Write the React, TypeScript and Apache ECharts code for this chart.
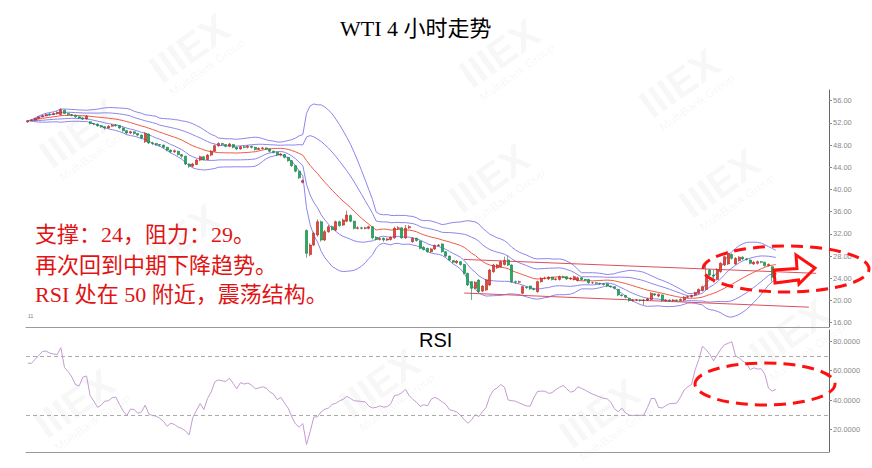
import React, { useEffect, useRef } from 'react';
import * as echarts from 'echarts';

// [open, close, low, high] per 4h candle
const candles: number[][] = [
  [52.2,52.4,52.0,52.5],[52.4,52.5,52.3,52.7],[52.5,52.8,52.4,52.9],[52.8,53.1,52.7,53.2],[53.1,53.3,53.0,53.5],
  [53.3,53.5,53.2,53.7],[53.6,53.5,53.3,53.8],[53.5,53.7,53.4,53.9],[53.7,53.9,53.5,54.1],[53.5,54.4,53.4,54.6],
  [54.3,53.7,53.6,54.4],[53.7,53.5,53.3,53.8],[53.5,53.4,53.2,53.6],[53.4,53.1,52.9,53.5],[53.1,52.9,52.7,53.2],
  [52.9,52.7,52.5,53.0],[52.7,53.2,52.6,53.4],[52.2,51.9,51.7,52.3],[51.9,51.8,51.6,52.0],[51.8,51.5,51.3,51.9],
  [51.5,51.3,51.1,51.6],[51.3,51.1,50.8,51.4],[51.1,51.4,51.0,51.6],[51.4,51.6,51.3,51.8],[51.6,51.5,51.3,51.8],
  [51.5,51.1,50.9,51.6],[51.1,50.6,50.4,51.2],[50.6,50.2,50.0,50.7],[50.2,50.4,50.0,50.6],[50.4,50.1,49.9,50.5],
  [50.1,49.8,49.6,50.2],[49.8,49.3,49.1,49.9],[48.6,50.1,48.4,50.3],[50.0,48.4,48.2,50.1],[48.4,48.3,48.0,48.6],
  [48.3,48.1,47.9,48.4],[48.1,48.0,47.7,48.2],[48.0,47.6,47.4,48.1],[47.6,47.1,46.9,47.7],[47.1,46.8,46.6,47.2],
  [46.8,47.0,46.6,47.2],[46.9,46.3,46.1,47.0],[46.3,46.0,45.7,46.4],[46.0,44.6,44.4,46.1],[44.6,44.2,43.9,44.7],
  [44.2,44.6,44.0,44.8],[44.5,45.3,44.4,45.5],[45.3,45.9,45.1,46.1],[45.9,45.4,45.2,46.0],[45.4,46.2,45.3,46.4],
  [46.2,46.9,46.0,47.1],[46.9,47.9,46.8,48.1],[47.9,48.3,47.7,48.5],[48.3,48.1,47.9,48.4],[48.1,47.8,47.6,48.2],
  [47.8,48.2,47.6,48.4],[48.1,47.6,47.4,48.2],[47.6,47.3,47.1,47.7],[47.3,47.7,47.2,47.9],[47.7,47.6,47.4,47.9],
  [47.6,47.8,47.4,48.0],[47.8,47.6,47.4,47.9],[47.6,47.2,47.0,47.7],[47.2,47.4,47.1,47.6],[47.4,47.5,47.2,47.7],
  [47.5,47.3,47.1,47.6],[47.3,46.9,46.7,47.4],[46.9,46.7,46.5,47.0],[46.7,46.2,46.0,46.8],[46.2,46.4,46.0,46.6],
  [46.3,45.8,45.6,46.4],[45.8,45.2,45.0,45.9],[45.2,44.3,44.1,45.3],[44.3,43.3,43.1,44.4],[43.3,42.1,41.9,43.4],
  [41.3,41.6,41.1,41.8],[32.6,28.5,27.7,32.8],[28.3,30.0,28.0,30.3],[30.0,32.1,29.8,32.4],[31.8,34.2,31.5,34.6],
  [34.2,30.9,30.6,34.4],[30.9,32.4,30.7,32.7],[32.4,33.3,32.2,33.6],[33.3,32.8,32.6,33.5],[32.7,34.2,32.5,34.4],
  [34.2,33.5,33.3,34.4],[33.6,34.5,33.4,34.8],[34.3,35.4,34.1,36.2],[35.3,34.3,34.1,35.5],[34.3,33.0,32.8,34.4],
  [33.0,33.1,32.8,33.4],[33.1,33.0,32.8,33.3],[33.0,33.1,32.8,33.3],[33.0,33.3,32.8,33.5],[33.3,31.3,31.0,33.4],
  [31.4,31.0,30.8,31.6],[31.0,31.2,30.8,31.4],[31.2,30.9,30.6,31.4],[30.9,31.1,30.7,31.3],[31.0,31.4,30.8,31.6],
  [31.3,33.0,31.1,33.3],[33.0,33.1,32.7,33.4],[33.1,31.3,31.1,33.2],[31.3,33.0,31.1,33.6],[33.1,33.3,32.9,33.6],
  [30.6,31.2,30.4,31.4],[31.2,30.8,30.6,31.3],[30.7,29.4,29.2,30.8],[29.6,29.2,29.0,29.8],[29.4,28.8,28.6,29.5],
  [28.8,29.3,28.6,29.5],[29.3,29.9,29.1,30.1],[29.9,30.0,29.7,30.2],[30.2,28.8,28.6,30.3],[28.8,28.0,27.8,28.9],
  [28.0,27.3,27.1,28.1],[27.2,26.9,26.7,27.3],[26.8,27.1,26.6,27.3],[27.0,26.5,26.3,27.1],[26.5,24.9,24.7,26.6],
  [24.9,22.8,22.6,25.0],[23.4,22.2,20.1,23.5],[22.2,23.3,22.0,23.5],[23.7,21.6,21.4,23.8],[21.7,22.6,21.5,22.8],
  [21.9,23.7,21.7,23.9],[22.8,25.5,22.6,25.7],[25.2,26.4,25.0,26.6],[25.9,26.4,25.7,26.6],[26.1,27.0,25.9,27.2],
  [26.5,27.2,26.3,27.9],[27.3,26.4,26.2,28.1],[26.4,23.4,23.2,26.5],[23.4,23.3,23.0,23.6],[23.3,23.4,23.1,23.6],
  [21.3,22.5,21.1,22.7],[22.4,22.3,22.1,22.6],[22.6,22.1,21.9,22.7],[22.1,22.0,21.8,22.3],[21.6,23.4,21.4,23.6],
  [23.4,24.0,23.2,24.2],[24.0,24.0,23.8,24.3],[23.9,24.2,23.7,24.4],[24.2,23.8,23.6,24.3],[23.8,23.9,23.6,24.1],
  [23.8,24.3,23.6,24.5],[24.3,24.2,24.0,24.5],[24.3,23.9,23.7,24.4],[23.9,24.0,23.7,24.2],[23.8,24.3,23.6,24.5],
  [23.6,24.1,23.4,24.3],[24.1,23.8,23.6,24.2],[23.8,23.7,23.5,23.9],[23.8,23.2,23.0,23.9],[23.2,23.2,23.0,23.4],
  [23.2,23.1,22.9,23.3],[23.1,23.0,22.8,23.2],[23.0,22.9,22.7,23.1],[23.0,22.6,22.4,23.1],[22.6,22.5,22.3,22.7],
  [22.5,22.2,22.0,22.6],[22.0,21.0,20.8,22.1],[21.0,20.9,20.7,21.1],[20.9,20.6,20.4,21.0],[20.4,20.0,19.8,20.5],
  [20.0,20.1,19.8,20.3],[20.1,20.1,19.9,20.3],[20.1,20.0,19.8,20.2],[20.0,20.1,19.2,20.3],[20.1,20.3,19.9,20.5],
  [20.2,21.3,20.0,21.5],[21.2,21.0,20.8,21.3],[20.8,21.1,20.6,21.3],[21.0,20.0,19.8,21.1],[20.0,20.1,19.8,20.3],
  [20.1,20.0,19.8,20.2],[20.0,20.1,19.8,20.3],[20.1,20.0,19.8,20.2],[20.0,20.2,19.9,20.4],[20.1,20.6,19.9,20.8],
  [20.6,20.7,20.4,20.9],[20.7,20.9,20.5,21.1],[21.0,21.4,20.8,21.6],[21.3,22.0,21.1,22.2],[21.8,22.5,21.6,22.7],
  [22.0,24.6,21.8,26.8],[25.5,24.6,24.4,25.7],[24.6,24.4,23.2,25.5],[23.8,25.6,23.6,25.8],[25.2,26.7,25.0,26.9],
  [26.4,27.9,26.2,28.1],[26.6,28.5,26.4,28.9],[28.3,27.6,27.4,28.5],[26.6,27.6,26.4,27.8],[27.2,27.8,27.0,28.0],
  [27.8,27.5,27.3,28.0],[27.5,27.4,27.2,27.6],[27.3,26.7,26.5,27.4],[26.6,26.9,26.4,27.1],[26.7,27.0,26.5,27.2],
  [27.0,26.9,26.7,27.1],[26.9,26.3,26.1,27.0],[26.3,26.5,26.1,26.7],[26.1,24.2,23.4,26.2],[24.8,24.8,24.6,25.0],
];

// RSI value per candle
const rsi: number[] = [
  64.9,64.9,67.6,70.3,72.9,73.2,71.8,71.2,70.8,75.5,
  62.0,59.2,55.6,50.4,49.6,55.4,56.3,43.0,39.2,35.0,
  36.5,39.2,39.5,41.5,42.0,37.0,32.5,29.5,33.8,33.6,
  31.0,32.0,36.5,30.5,29.5,29.0,27.6,25.5,22.2,24.3,
  23.4,21.6,20.7,19.0,16.3,28.2,33.0,37.6,33.5,41.0,
  45.4,52.4,53.6,53.0,52.6,54.7,51.2,47.6,51.8,50.8,
  51.5,50.2,47.6,48.2,49.0,48.0,45.5,44.0,40.3,41.8,
  38.0,34.5,28.5,23.8,21.6,24.0,9.8,18.5,28.5,28.6,
  32.0,33.7,34.6,37.0,37.8,39.4,40.5,42.5,41.0,39.5,
  39.3,39.0,38.8,35.8,34.6,35.0,36.0,35.2,35.5,37.5,
  43.0,43.5,45.0,47.2,43.0,40.5,38.5,35.7,36.8,36.0,
  40.5,41.8,40.5,38.8,37.0,33.4,32.8,31.8,29.6,26.8,
  24.2,26.5,30.0,28.8,32.0,35.0,42.5,46.7,48.2,50.5,
  48.6,40.0,39.5,39.2,38.0,37.0,36.0,35.8,41.5,45.8,
  46.0,46.0,44.5,45.0,47.0,48.6,49.9,47.5,45.3,46.0,
  49.0,47.9,46.7,45.3,44.0,43.0,42.1,41.1,40.8,38.5,
  34.0,32.0,34.5,31.2,29.8,29.4,29.8,29.5,29.8,35.0,
  41.0,41.0,35.0,34.6,36.2,37.5,37.6,38.0,42.0,46.8,
  49.0,50.5,60.5,67.5,76.5,74.0,71.0,66.5,70.5,74.5,
  77.5,78.4,79.5,70.0,68.5,66.4,64.8,60.6,61.8,61.0,
  61.2,57.5,48.0,46.0,47.2,
];

// hand-drawn channel lines: [candle slot, price]
const resistanceLine: number[][] = [[119, 27.4], [215, 24.9]];
const supportLine: number[][] = [[119, 21.35], [213, 18.8]];

const priceTicks = [16, 20, 24, 28, 32, 36, 40, 44, 48, 52, 56];
const rsiTicks = [20, 40, 60, 80];
const rsiLevels = [70, 30];

const SLOT_COUNT = 219;
const slots = Array.from({ length: SLOT_COUNT }, (_, i) => String(i));

// watermark anchor points (pixels)
const watermarkSpots: number[][] = [
  [190, 55], [500, 60], [680, 90], [80, 140], [720, 190], [490, 185],
  [180, 245], [75, 410], [380, 390], [600, 420], [790, 340],
];

const closes = candles.map((c) => c[1]);
function bollinger(k: number): number[] {
  return closes.map((_, i) => {
    const w = closes.slice(Math.max(0, i - 19), i + 1);
    const m = w.reduce((a, b) => a + b, 0) / w.length;
    const sd = Math.sqrt(w.reduce((a, b) => a + (b - m) * (b - m), 0) / w.length);
    return +(m + k * sd).toFixed(3);
  });
}

const SERIF = "'Liberation Serif', 'Noto Sans CJK SC', serif";
const SANS = "'Liberation Sans', Arial, sans-serif";

export default function App() {
  const ref = useRef<HTMLDivElement>(null);
  useEffect(() => {
    const chart = echarts.init(ref.current!, null, { renderer: 'svg' });
    const bandColor = '#8c85ec';
    const bandLine = (data: number[], color: string) => ({
      type: 'line', xAxisIndex: 0, yAxisIndex: 0, data, showSymbol: false, symbol: 'none',
      lineStyle: { color, width: 1 }, z: 2, silent: true,
    });
    const watermarks = watermarkSpots.map(([x, y]) => ({
      type: 'group', x, y, rotation: 0.62, z: 0, silent: true,
      children: [
        { type: 'text', x: -40, y: -26, style: { text: 'IIIEX', fontSize: 40, fontWeight: 'bold', fontFamily: SANS, fill: 'rgba(0,0,0,0.05)' } },
        { type: 'text', x: -38, y: 14, style: { text: 'MultiBank Group', fontSize: 12, fontFamily: SANS, fill: 'rgba(0,0,0,0.05)' } },
      ],
    }));
    const option: any = {
      animation: false,
      backgroundColor: '#ffffff',
      grid: [
        { left: 26, right: 43, top: 90, bottom: 141 },
        { left: 26, right: 43, top: 330, bottom: 16 },
      ],
      xAxis: [0, 1].map((g) => ({
        type: 'category', gridIndex: g, data: slots, boundaryGap: true,
        axisLine: { show: true, lineStyle: { color: '#9a9a9a', width: 1 } },
        axisTick: { show: false }, axisLabel: { show: false }, splitLine: { show: false },
      })),
      yAxis: [
        {
          type: 'value', gridIndex: 0, position: 'right', min: 15.23, max: 57.93, scale: true,
          axisLine: { show: true, lineStyle: { color: '#666', width: 1 } },
          axisTick: { show: true, length: 3, customValues: priceTicks, lineStyle: { color: '#888' } },
          axisLabel: { customValues: priceTicks, formatter: (v: number) => v.toFixed(2), fontSize: 7.5, color: '#888', fontFamily: SANS, margin: 4 },
          splitLine: { show: false },
        },
        {
          type: 'value', gridIndex: 1, position: 'right', min: 4.75, max: 87.46,
          axisLine: { show: true, lineStyle: { color: '#666', width: 1 } },
          axisTick: { show: true, length: 3, customValues: rsiTicks, lineStyle: { color: '#888' } },
          axisLabel: { customValues: rsiTicks, formatter: (v: number) => v.toFixed(4), fontSize: 7.5, color: '#888', fontFamily: SANS, margin: 4 },
          splitLine: { show: false },
        },
      ],
      series: [
        bandLine(bollinger(2), bandColor),
        bandLine(bollinger(1), bandColor),
        bandLine(bollinger(0), '#ee5b46'),
        bandLine(bollinger(-1), bandColor),
        bandLine(bollinger(-2), bandColor),
        {
          type: 'line', xAxisIndex: 0, yAxisIndex: 0, data: resistanceLine, symbol: 'none',
          lineStyle: { color: '#dd4f5c', width: 1 }, z: 2,
        },
        {
          type: 'line', xAxisIndex: 0, yAxisIndex: 0, data: supportLine, symbol: 'none',
          lineStyle: { color: '#dd4f5c', width: 1 }, z: 2,
        },
        {
          type: 'candlestick', xAxisIndex: 0, yAxisIndex: 0, data: candles, barWidth: 2.8, z: 5,
          itemStyle: {
            color: '#ea4338', color0: '#1fad5e', borderColor: '#a8231c', borderColor0: '#0f7a3f', borderWidth: 0.6,
          },
        },
        {
          type: 'line', xAxisIndex: 1, yAxisIndex: 1, data: rsi, symbol: 'none',
          lineStyle: { color: '#c39bd0', width: 1 },
          markLine: {
            silent: true, symbol: 'none', label: { show: false },
            lineStyle: { color: '#aaaaaa', type: [4, 3], width: 1 },
            data: rsiLevels.map((v) => ({ yAxis: v })),
          },
        },
      ],
      graphic: [
        ...watermarks,
        { type: 'text', x: 340, y: 28, style: { text: 'WTI 4 小时走势', fontSize: 22, fontFamily: SERIF, fill: '#000', verticalAlign: 'middle' } },
        { type: 'text', x: 419, y: 340, style: { text: 'RSI', fontSize: 20, fontFamily: SANS, fill: '#000', verticalAlign: 'middle' } },
        { type: 'text', x: 35, y: 234, style: { text: '支撑：24，阻力：29。', fontSize: 22, fontFamily: SERIF, fill: '#e01414', verticalAlign: 'middle' } },
        { type: 'text', x: 35, y: 265, style: { text: '再次回到中期下降趋势。', fontSize: 22, fontFamily: SERIF, fill: '#e01414', verticalAlign: 'middle' } },
        { type: 'text', x: 35, y: 294, style: { text: 'RSI 处在 50 附近，震荡结构。', fontSize: 22, fontFamily: SERIF, fill: '#e01414', verticalAlign: 'middle' } },
        { type: 'text', x: 28, y: 316, style: { text: '11', fontSize: 5, fontFamily: SANS, fill: '#777', verticalAlign: 'middle' } },
        {
          type: 'ellipse', shape: { cx: 786, cy: 269, rx: 83, ry: 23 },
          style: { fill: 'none', stroke: '#ff1010', lineWidth: 3, lineDash: [12, 7] }, z: 100,
        },
        {
          type: 'ellipse', shape: { cx: 765, cy: 384, rx: 70, ry: 21 },
          style: { fill: 'none', stroke: '#ff1010', lineWidth: 3, lineDash: [12, 7] }, z: 100,
        },
        {
          type: 'polygon',
          shape: { points: [[774, 270], [797, 268.5], [796, 255], [815, 268], [799, 284], [798.5, 280], [775, 283]] },
          style: { fill: 'none', stroke: '#ff1010', lineWidth: 3 }, z: 100,
        },
      ],
    };
    chart.setOption(option);
    return () => chart.dispose();
  }, []);
  return (
    <div
      ref={ref}
      style={{ position: 'absolute', left: 0, top: 0, width: 872, height: 468, background: '#fff' }}
    />
  );
}
